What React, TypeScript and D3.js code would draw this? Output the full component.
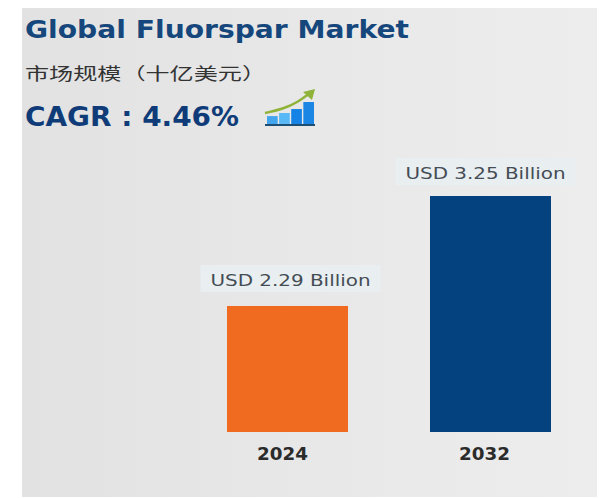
import React from "react";
import * as d3 from "d3";

const years = ["2024", "2032"];
const marketValues = [2.29, 3.25];
const valueLabels = ["USD 2.29 Billion", "USD 3.25 Billion"];
const barColors = ["#f06a20", "#04427f"];
const iconLevels = [0.36, 0.5, 0.68, 1];
const iconColors = ["#42a5ee", "#59b9f7", "#1583e6", "#1b86e4"];

const WIDTH = 603;
const HEIGHT = 498;
const latin = "'DejaVu Sans', 'Noto Sans', sans-serif";

function GrowthIcon() {
  const x = d3.scaleBand<number>().domain(d3.range(iconLevels.length)).range([267, 314]).paddingInner(0.12);
  const h = d3.scaleLinear().domain([0, 1]).range([124, 102]);
  const arrow = d3.line<[number, number]>().curve(d3.curveBasis);
  return (
    <g>
      {iconLevels.map((v, i) => (
        <rect key={i} x={x(i)} y={h(v)} width={x.bandwidth()} height={h(0) - h(v)} fill={iconColors[i]} />
      ))}
      <rect x={265} y={124} width={50} height={2} fill="#1c4f73" />
      <path
        d={arrow([[265, 113], [283, 109], [298, 102], [310, 93]]) ?? ""}
        fill="none"
        stroke="#8fb339"
        strokeWidth={2.4}
      />
      <path d="M303 92 L315 89 L312 100 Z" fill="#8fb339" />
    </g>
  );
}

export default function App() {
  // The value axis starts well above zero, which exaggerates the growth between the two bars.
  const y = d3.scaleLinear().domain([1.19, 3.25]).range([432, 196]);
  const barX = d3.scalePoint<string>().domain(years).range([227, 430]);
  const barWidth = 121;
  const labelShift = [3, -5];
  const labelRise = [20, 17];

  return (
    <svg
      width={WIDTH}
      height={HEIGHT}
      viewBox={`0 0 ${WIDTH} ${HEIGHT}`}
      style={{ position: "fixed", left: 0, top: 0, background: "#ffffff" }}
    >
      <defs>
        <linearGradient id="panelShade" x1="0" y1="0" x2="1" y2="0">
          <stop offset="0" stopColor="#e2e2e2" />
          <stop offset="0.6" stopColor="#e9e9e9" />
          <stop offset="1" stopColor="#ededed" />
        </linearGradient>
      </defs>
      <rect x={22} y={8} width={575} height={489} fill="url(#panelShade)" />

      <text x={25} y={38} fontFamily={latin} fontWeight={700} fontSize={24.5} fill="#16477c"
        textLength={384} lengthAdjust="spacingAndGlyphs">
        Global Fluorspar Market
      </text>
      <text x={25} y={80} fontFamily="'Noto Sans CJK SC', sans-serif" fontSize={17} fill="#333333"
        textLength={241} lengthAdjust="spacingAndGlyphs">
        市场规模（十亿美元）
      </text>
      <text x={25} y={126} fontFamily={latin} fontWeight={700} fontSize={26} fill="#0f3c78"
        textLength={214} lengthAdjust="spacingAndGlyphs">
        CAGR : 4.46%
      </text>
      <GrowthIcon />

      {years.map((year, i) => {
        const left = barX(year) as number;
        const cx = left + barWidth / 2;
        const top = y(marketValues[i]);
        const labelX = cx + labelShift[i];
        const baseline = top - labelRise[i];
        return (
          <g key={year}>
            <rect x={labelX - 90} y={baseline - 21} width={180} height={27} fill="#e9eef0" />
            <text x={labelX} y={baseline} textAnchor="middle" fontFamily={latin} fontSize={16.5} fill="#444c55"
              textLength={160} lengthAdjust="spacingAndGlyphs">
              {valueLabels[i]}
            </text>
            <rect x={left} y={top} width={barWidth} height={y.range()[0] - top} fill={barColors[i]} />
            <text x={i === 0 ? cx - 5 : cx - 6} y={460} textAnchor="middle" fontFamily={latin} fontWeight={700} fontSize={17} fill="#2b2b2b"
              textLength={51} lengthAdjust="spacingAndGlyphs">
              {year}
            </text>
          </g>
        );
      })}
    </svg>
  );
}
